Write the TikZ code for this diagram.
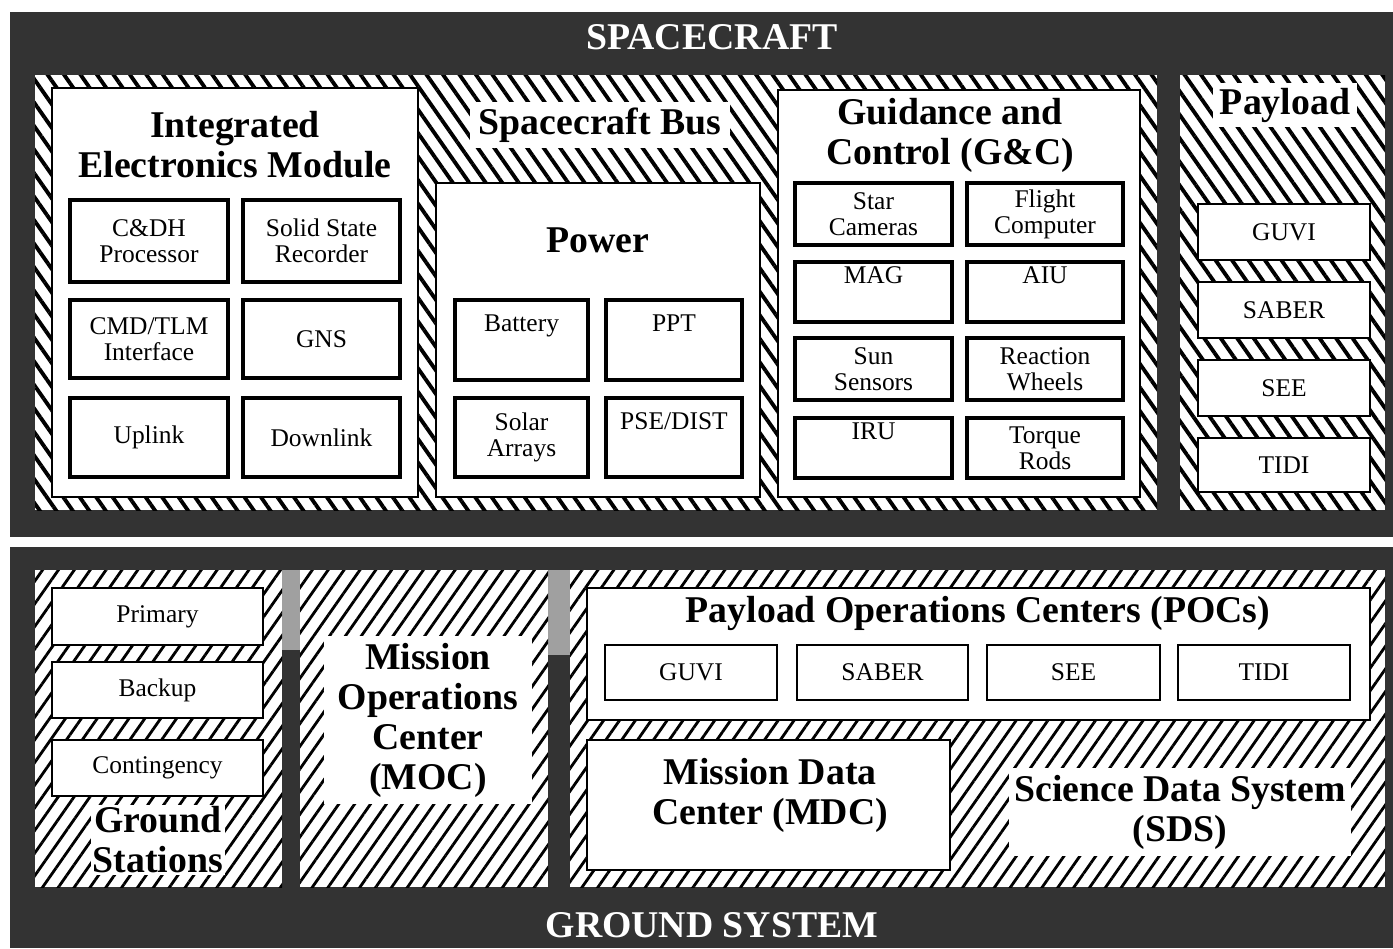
\documentclass[tikz,border=0pt]{standalone}
\usepackage{fontspec}
\setmainfont{Liberation Serif}
\usepackage{tikz}
\usetikzlibrary{fit,patterns.meta}
\definecolor{panel}{HTML}{333333}
\definecolor{speck}{HTML}{A0A0A0}

\begin{document}
\begin{tikzpicture}[x=0.02cm, y=-0.02cm,
  bushatch/.style={inner sep=0pt, preaction={fill=white},
    pattern={Lines[angle=-55,distance=2.7mm,line width=2.2pt]}},
  gndhatch/.style={inner sep=0pt, preaction={fill=white},
    pattern={Lines[angle=55,distance=2.6mm,line width=1.6pt]}},
  group/.style={draw, line width=1.6pt, fill=white, inner sep=0pt},
  size/.style 2 args={minimum width=#1*0.02cm, minimum height=#2*0.02cm},
  unit/.style={draw, line width=2.4pt, fill=white, inner sep=0pt, align=center,
    font=\fontsize{14.5}{14.8}\selectfont},
  slot/.style={draw, line width=1.5pt, fill=white, inner sep=0pt, align=center,
    font=\fontsize{14.5}{14.8}\selectfont},
  head/.style={align=center, font=\fontsize{21.5}{22.8}\selectfont\bfseries},
  banner/.style={text=white, font=\fontsize{21.5}{22.8}\selectfont\bfseries}]
\useasboundingbox (0,0) rectangle (1393,948);

\fill[panel] (10,12) rectangle (1393,537);
\fill[panel] (10,547) rectangle (1393,948);
\node[banner] (sc) at (712,37) {SPACECRAFT};
\node[banner] (gsys) at (712,925) {GROUND SYSTEM};

\node[bushatch, fit={(35,75) (1157,510)}] (bus) {};
\node[bushatch, fit={(1180,75) (1385,510)}] (payload) {};
\node[head, fill=white, inner xsep=5pt, inner ysep=3pt] (bust) at (600,125) {Spacecraft Bus};
\node[head, fill=white, inner xsep=4pt, inner ysep=3pt] (payt) at (1285,105) {Payload};

\node[group, fit={(52,88) (418,497)}] (iem) {};
\node[head] (iemt) at (235,145) {Integrated\\Electronics Module};
\node[unit, size={158}{82}] (cdh) at (149,241) {C\&DH\\Processor};
\node[unit, size={157}{82}] (ssr) at (321.5,241) {Solid State\\Recorder};
\node[unit, size={158}{78}] (cmd) at (149,339) {CMD/TLM\\Interface};
\node[unit, size={157}{78}] (gns) at (321.5,339) {GNS};
\node[unit, size={158}{79}] (up) at (149,437.5) {Uplink};
\node[unit, size={157}{79}] (down) at (321.5,437.5) {Downlink};

\node[group, fit={(436,183) (760,497)}] (power) {};
\node[head] (powt) at (598,240) {Power};
\node[unit, size={133}{80}] (bat) at (521.5,340) {Battery\\\strut};
\node[unit, size={136}{80}] (ppt) at (674,340) {PPT\\\strut};
\node[unit, size={133}{79}] (solar) at (521.5,437.5) {Solar\\Arrays};
\node[unit, size={136}{79}] (pse) at (674,437.5) {PSE/DIST\\\strut};

\node[group, fit={(778,90) (1140,497)}] (gnc) {};
\node[head] (gnct) at (950,135) {Guidance and\\Control (G\&C)};
\node[unit, size={157}{62}] (star) at (873.5,214) {Star\\Cameras};
\node[unit, size={156}{62}] (fc) at (1045,214) {Flight\\Computer};
\node[unit, size={157}{60}] (mag) at (873.5,292) {MAG\\\strut};
\node[unit, size={156}{60}] (aiu) at (1045,292) {AIU\\\strut};
\node[unit, size={157}{62}] (sun) at (873.5,369) {Sun\\Sensors};
\node[unit, size={156}{62}] (rw) at (1045,369) {Reaction\\Wheels};
\node[unit, size={157}{60}] (iru) at (873.5,448) {IRU\\\strut};
\node[unit, size={156}{60}] (tr) at (1045,448) {Torque\\Rods};

\node[slot, size={172}{56}] (guvi) at (1284,232) {GUVI};
\node[slot, size={172}{56}] (saber) at (1284,310) {SABER};
\node[slot, size={172}{56}] (see) at (1284,388) {SEE};
\node[slot, size={172}{54}] (tidi) at (1284,465) {TIDI};

\fill[speck] (282,570) rectangle (300,650);
\fill[speck] (548,570) rectangle (570,655);

\node[gndhatch, fit={(35,570) (282,887)}] (gs) {};
\node[slot, size={211}{57}] (prim) at (157.5,616.5) {Primary};
\node[slot, size={211}{56}] (back) at (157.5,690) {Backup};
\node[slot, size={211}{56}] (cont) at (157.5,768) {Contingency};
\node[head, fill=white, inner sep=1pt] (gst) at (158,840) {Ground\\Stations};

\node[gndhatch, fit={(300,570) (548,887)}] (moc) {};
\node[head, fill=white, inner xsep=8pt, inner ysep=4pt] (moct) at (428,720) {Mission\\Operations\\Center\\(MOC)};

\node[gndhatch, fit={(570,570) (1385,887)}] (sds) {};
\node[group, line width=1.2pt, fit={(587,588) (1370,720)}] (pocs) {};
\node[head] (pocst) at (978,613) {Payload Operations Centers (POCs)};
\node[slot, size={172}{55}] (pguvi) at (691,672.5) {GUVI};
\node[slot, size={171}{55}] (psaber) at (882.5,672.5) {SABER};
\node[slot, size={173}{55}] (psee) at (1073.5,672.5) {SEE};
\node[slot, size={172}{55}] (ptidi) at (1264,672.5) {TIDI};
\node[group, line width=1.2pt, fit={(587,740) (950,870)}] (mdc) {};
\node[head] (mdct) at (770,795) {Mission Data\\Center (MDC)};
\node[head, fill=white, inner xsep=3pt, inner ysep=4pt] (sdst) at (1180,812) {Science Data System\\(SDS)};
\end{tikzpicture}
\end{document}
